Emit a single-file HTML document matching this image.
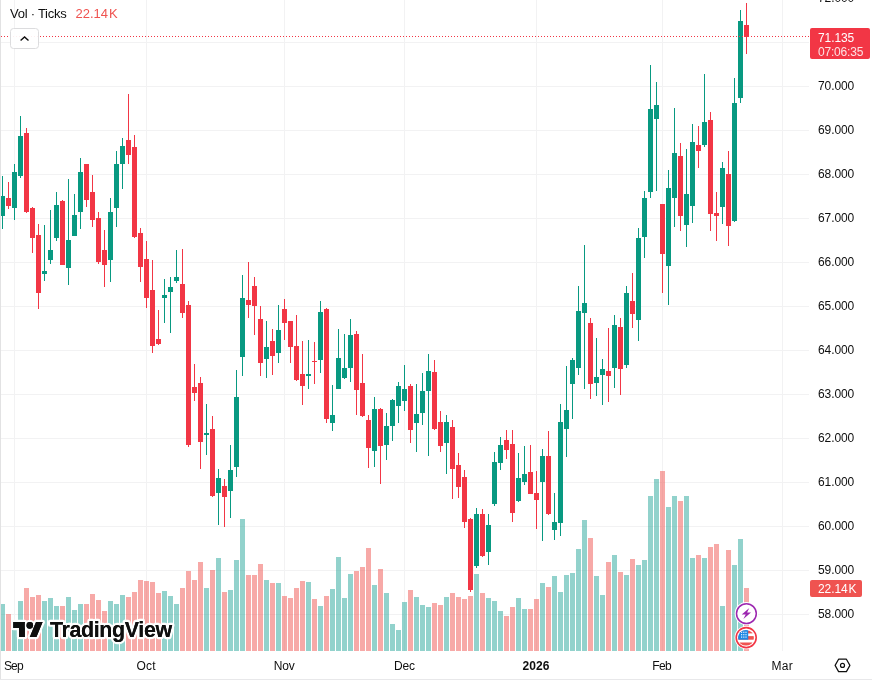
<!DOCTYPE html><html><head><meta charset="utf-8"><title>Chart</title><style>
html,body{margin:0;padding:0;background:#fff;}
body{width:872px;height:681px;overflow:hidden;position:relative;font-family:"Liberation Sans",sans-serif;color:#0F0F0F;}
#c{position:absolute;left:0;top:0;}
#w{position:absolute;left:0;top:0;width:872px;height:681px;will-change:transform;}
.t{position:absolute;white-space:nowrap;line-height:1;}
.ax{font-size:12px;letter-spacing:-0.1px;}
.bl{font-size:12px;}
</style></head><body><div id="w">
<svg id="c" width="872" height="681" viewBox="0 0 872 681">
<rect width="872" height="681" fill="#fff"/>
<g fill="#f2f2f3" shape-rendering="crispEdges">
<rect x="14" y="0" width="1" height="651"/>
<rect x="146" y="0" width="1" height="651"/>
<rect x="284" y="0" width="1" height="651"/>
<rect x="404" y="0" width="1" height="651"/>
<rect x="536" y="0" width="1" height="651"/>
<rect x="662" y="0" width="1" height="651"/>
<rect x="782" y="0" width="1" height="651"/>
<rect x="0" y="42" width="809" height="1"/>
<rect x="0" y="86" width="809" height="1"/>
<rect x="0" y="130" width="809" height="1"/>
<rect x="0" y="174" width="809" height="1"/>
<rect x="0" y="218" width="809" height="1"/>
<rect x="0" y="262" width="809" height="1"/>
<rect x="0" y="306" width="809" height="1"/>
<rect x="0" y="350" width="809" height="1"/>
<rect x="0" y="394" width="809" height="1"/>
<rect x="0" y="438" width="809" height="1"/>
<rect x="0" y="482" width="809" height="1"/>
<rect x="0" y="526" width="809" height="1"/>
<rect x="0" y="570" width="809" height="1"/>
<rect x="0" y="614" width="809" height="1"/>
</g>
<g shape-rendering="crispEdges">
<rect x="0" y="604" width="5" height="47" fill="rgba(38,166,154,0.5)"/>
<rect x="6" y="614" width="5" height="37" fill="rgba(239,83,80,0.5)"/>
<rect x="12" y="630" width="5" height="21" fill="rgba(38,166,154,0.5)"/>
<rect x="18" y="601" width="5" height="50" fill="rgba(38,166,154,0.5)"/>
<rect x="24" y="588" width="5" height="63" fill="rgba(239,83,80,0.5)"/>
<rect x="30" y="597" width="5" height="54" fill="rgba(239,83,80,0.5)"/>
<rect x="36" y="595" width="5" height="56" fill="rgba(239,83,80,0.5)"/>
<rect x="42" y="601" width="5" height="50" fill="rgba(38,166,154,0.5)"/>
<rect x="48" y="598" width="5" height="53" fill="rgba(38,166,154,0.5)"/>
<rect x="54" y="606" width="5" height="45" fill="rgba(38,166,154,0.5)"/>
<rect x="60" y="606" width="5" height="45" fill="rgba(239,83,80,0.5)"/>
<rect x="66" y="597" width="5" height="54" fill="rgba(38,166,154,0.5)"/>
<rect x="72" y="610" width="5" height="41" fill="rgba(38,166,154,0.5)"/>
<rect x="78" y="604" width="5" height="47" fill="rgba(38,166,154,0.5)"/>
<rect x="84" y="604" width="5" height="47" fill="rgba(239,83,80,0.5)"/>
<rect x="90" y="594" width="5" height="57" fill="rgba(239,83,80,0.5)"/>
<rect x="96" y="600" width="5" height="51" fill="rgba(239,83,80,0.5)"/>
<rect x="102" y="611" width="5" height="40" fill="rgba(239,83,80,0.5)"/>
<rect x="108" y="601" width="5" height="50" fill="rgba(38,166,154,0.5)"/>
<rect x="114" y="604" width="5" height="47" fill="rgba(38,166,154,0.5)"/>
<rect x="120" y="595" width="5" height="56" fill="rgba(38,166,154,0.5)"/>
<rect x="126" y="597" width="5" height="54" fill="rgba(239,83,80,0.5)"/>
<rect x="132" y="592" width="5" height="59" fill="rgba(239,83,80,0.5)"/>
<rect x="138" y="580" width="5" height="71" fill="rgba(239,83,80,0.5)"/>
<rect x="144" y="581" width="5" height="70" fill="rgba(239,83,80,0.5)"/>
<rect x="150" y="582" width="5" height="69" fill="rgba(239,83,80,0.5)"/>
<rect x="156" y="593" width="5" height="58" fill="rgba(239,83,80,0.5)"/>
<rect x="162" y="591" width="5" height="60" fill="rgba(38,166,154,0.5)"/>
<rect x="168" y="596" width="5" height="55" fill="rgba(38,166,154,0.5)"/>
<rect x="174" y="604" width="5" height="47" fill="rgba(38,166,154,0.5)"/>
<rect x="180" y="588" width="5" height="63" fill="rgba(239,83,80,0.5)"/>
<rect x="186" y="571" width="5" height="80" fill="rgba(239,83,80,0.5)"/>
<rect x="192" y="580" width="5" height="71" fill="rgba(239,83,80,0.5)"/>
<rect x="198" y="562" width="5" height="89" fill="rgba(239,83,80,0.5)"/>
<rect x="204" y="588" width="5" height="63" fill="rgba(38,166,154,0.5)"/>
<rect x="210" y="570" width="5" height="81" fill="rgba(239,83,80,0.5)"/>
<rect x="216" y="558" width="5" height="93" fill="rgba(38,166,154,0.5)"/>
<rect x="222" y="592" width="5" height="59" fill="rgba(239,83,80,0.5)"/>
<rect x="228" y="590" width="5" height="61" fill="rgba(38,166,154,0.5)"/>
<rect x="234" y="560" width="5" height="91" fill="rgba(38,166,154,0.5)"/>
<rect x="240" y="519" width="5" height="132" fill="rgba(38,166,154,0.5)"/>
<rect x="246" y="575" width="5" height="76" fill="rgba(239,83,80,0.5)"/>
<rect x="252" y="575" width="5" height="76" fill="rgba(239,83,80,0.5)"/>
<rect x="258" y="564" width="5" height="87" fill="rgba(239,83,80,0.5)"/>
<rect x="264" y="580" width="5" height="71" fill="rgba(38,166,154,0.5)"/>
<rect x="270" y="583" width="5" height="68" fill="rgba(239,83,80,0.5)"/>
<rect x="276" y="583" width="5" height="68" fill="rgba(38,166,154,0.5)"/>
<rect x="282" y="596" width="5" height="55" fill="rgba(239,83,80,0.5)"/>
<rect x="288" y="598" width="5" height="53" fill="rgba(239,83,80,0.5)"/>
<rect x="294" y="588" width="5" height="63" fill="rgba(239,83,80,0.5)"/>
<rect x="300" y="581" width="5" height="70" fill="rgba(239,83,80,0.5)"/>
<rect x="306" y="582" width="5" height="69" fill="rgba(38,166,154,0.5)"/>
<rect x="312" y="599" width="5" height="52" fill="rgba(239,83,80,0.5)"/>
<rect x="318" y="606" width="5" height="45" fill="rgba(38,166,154,0.5)"/>
<rect x="324" y="596" width="5" height="55" fill="rgba(239,83,80,0.5)"/>
<rect x="330" y="589" width="5" height="62" fill="rgba(38,166,154,0.5)"/>
<rect x="336" y="557" width="5" height="94" fill="rgba(38,166,154,0.5)"/>
<rect x="342" y="598" width="5" height="53" fill="rgba(38,166,154,0.5)"/>
<rect x="348" y="574" width="5" height="77" fill="rgba(38,166,154,0.5)"/>
<rect x="354" y="571" width="5" height="80" fill="rgba(239,83,80,0.5)"/>
<rect x="360" y="567" width="5" height="84" fill="rgba(239,83,80,0.5)"/>
<rect x="366" y="548" width="5" height="103" fill="rgba(239,83,80,0.5)"/>
<rect x="372" y="585" width="5" height="66" fill="rgba(38,166,154,0.5)"/>
<rect x="378" y="569" width="5" height="82" fill="rgba(239,83,80,0.5)"/>
<rect x="384" y="593" width="5" height="58" fill="rgba(38,166,154,0.5)"/>
<rect x="390" y="624" width="5" height="27" fill="rgba(38,166,154,0.5)"/>
<rect x="396" y="630" width="5" height="21" fill="rgba(38,166,154,0.5)"/>
<rect x="402" y="602" width="5" height="49" fill="rgba(38,166,154,0.5)"/>
<rect x="408" y="590" width="5" height="61" fill="rgba(239,83,80,0.5)"/>
<rect x="414" y="597" width="5" height="54" fill="rgba(38,166,154,0.5)"/>
<rect x="420" y="605" width="5" height="46" fill="rgba(38,166,154,0.5)"/>
<rect x="426" y="607" width="5" height="44" fill="rgba(38,166,154,0.5)"/>
<rect x="432" y="603" width="5" height="48" fill="rgba(239,83,80,0.5)"/>
<rect x="438" y="605" width="5" height="46" fill="rgba(239,83,80,0.5)"/>
<rect x="444" y="597" width="5" height="54" fill="rgba(38,166,154,0.5)"/>
<rect x="450" y="593" width="5" height="58" fill="rgba(239,83,80,0.5)"/>
<rect x="456" y="597" width="5" height="54" fill="rgba(239,83,80,0.5)"/>
<rect x="462" y="599" width="5" height="52" fill="rgba(239,83,80,0.5)"/>
<rect x="468" y="596" width="5" height="55" fill="rgba(239,83,80,0.5)"/>
<rect x="474" y="574" width="5" height="77" fill="rgba(38,166,154,0.5)"/>
<rect x="480" y="593" width="5" height="58" fill="rgba(239,83,80,0.5)"/>
<rect x="486" y="598" width="5" height="53" fill="rgba(38,166,154,0.5)"/>
<rect x="492" y="601" width="5" height="50" fill="rgba(38,166,154,0.5)"/>
<rect x="498" y="611" width="5" height="40" fill="rgba(38,166,154,0.5)"/>
<rect x="504" y="616" width="5" height="35" fill="rgba(239,83,80,0.5)"/>
<rect x="510" y="607" width="5" height="44" fill="rgba(239,83,80,0.5)"/>
<rect x="516" y="598" width="5" height="53" fill="rgba(38,166,154,0.5)"/>
<rect x="522" y="609" width="5" height="42" fill="rgba(38,166,154,0.5)"/>
<rect x="528" y="609" width="5" height="42" fill="rgba(239,83,80,0.5)"/>
<rect x="534" y="599" width="5" height="52" fill="rgba(239,83,80,0.5)"/>
<rect x="540" y="583" width="5" height="68" fill="rgba(38,166,154,0.5)"/>
<rect x="546" y="587" width="5" height="64" fill="rgba(239,83,80,0.5)"/>
<rect x="552" y="576" width="5" height="75" fill="rgba(38,166,154,0.5)"/>
<rect x="558" y="592" width="5" height="59" fill="rgba(38,166,154,0.5)"/>
<rect x="564" y="575" width="5" height="76" fill="rgba(38,166,154,0.5)"/>
<rect x="570" y="573" width="5" height="78" fill="rgba(38,166,154,0.5)"/>
<rect x="576" y="549" width="5" height="102" fill="rgba(38,166,154,0.5)"/>
<rect x="582" y="520" width="5" height="131" fill="rgba(38,166,154,0.5)"/>
<rect x="588" y="538" width="5" height="113" fill="rgba(239,83,80,0.5)"/>
<rect x="594" y="576" width="5" height="75" fill="rgba(38,166,154,0.5)"/>
<rect x="600" y="595" width="5" height="56" fill="rgba(38,166,154,0.5)"/>
<rect x="606" y="562" width="5" height="89" fill="rgba(239,83,80,0.5)"/>
<rect x="612" y="555" width="5" height="96" fill="rgba(38,166,154,0.5)"/>
<rect x="618" y="572" width="5" height="79" fill="rgba(239,83,80,0.5)"/>
<rect x="624" y="575" width="5" height="76" fill="rgba(38,166,154,0.5)"/>
<rect x="630" y="559" width="5" height="92" fill="rgba(239,83,80,0.5)"/>
<rect x="636" y="565" width="5" height="86" fill="rgba(38,166,154,0.5)"/>
<rect x="642" y="560" width="5" height="91" fill="rgba(38,166,154,0.5)"/>
<rect x="648" y="496" width="5" height="155" fill="rgba(38,166,154,0.5)"/>
<rect x="654" y="479" width="5" height="172" fill="rgba(38,166,154,0.5)"/>
<rect x="660" y="471" width="5" height="180" fill="rgba(239,83,80,0.5)"/>
<rect x="666" y="507" width="5" height="144" fill="rgba(38,166,154,0.5)"/>
<rect x="672" y="496" width="5" height="155" fill="rgba(38,166,154,0.5)"/>
<rect x="678" y="501" width="5" height="150" fill="rgba(239,83,80,0.5)"/>
<rect x="684" y="496" width="5" height="155" fill="rgba(38,166,154,0.5)"/>
<rect x="690" y="558" width="5" height="93" fill="rgba(38,166,154,0.5)"/>
<rect x="696" y="555" width="5" height="96" fill="rgba(239,83,80,0.5)"/>
<rect x="702" y="558" width="5" height="93" fill="rgba(38,166,154,0.5)"/>
<rect x="708" y="547" width="5" height="104" fill="rgba(239,83,80,0.5)"/>
<rect x="714" y="544" width="5" height="107" fill="rgba(239,83,80,0.5)"/>
<rect x="720" y="606" width="5" height="45" fill="rgba(38,166,154,0.5)"/>
<rect x="726" y="550" width="5" height="101" fill="rgba(239,83,80,0.5)"/>
<rect x="732" y="565" width="5" height="86" fill="rgba(38,166,154,0.5)"/>
<rect x="738" y="539" width="5" height="112" fill="rgba(38,166,154,0.5)"/>
<rect x="744" y="588" width="5" height="63" fill="rgba(239,83,80,0.5)"/>
</g>
<g shape-rendering="crispEdges">
<rect x="2" y="176" width="1" height="53" fill="#089981"/>
<rect x="0" y="196" width="5" height="20" fill="#089981"/>
<rect x="8" y="182" width="1" height="27" fill="#F23645"/>
<rect x="6" y="198" width="5" height="8" fill="#F23645"/>
<rect x="14" y="164" width="1" height="56" fill="#089981"/>
<rect x="12" y="172" width="5" height="36" fill="#089981"/>
<rect x="20" y="116" width="1" height="62" fill="#089981"/>
<rect x="18" y="136" width="5" height="40" fill="#089981"/>
<rect x="26" y="128" width="1" height="85" fill="#F23645"/>
<rect x="24" y="133" width="5" height="79" fill="#F23645"/>
<rect x="32" y="207" width="1" height="46" fill="#F23645"/>
<rect x="30" y="208" width="5" height="30" fill="#F23645"/>
<rect x="38" y="224" width="1" height="85" fill="#F23645"/>
<rect x="36" y="235" width="5" height="58" fill="#F23645"/>
<rect x="44" y="225" width="1" height="56" fill="#089981"/>
<rect x="42" y="271" width="5" height="3" fill="#089981"/>
<rect x="50" y="210" width="1" height="54" fill="#089981"/>
<rect x="48" y="250" width="5" height="10" fill="#089981"/>
<rect x="56" y="192" width="1" height="49" fill="#089981"/>
<rect x="54" y="205" width="5" height="33" fill="#089981"/>
<rect x="62" y="200" width="1" height="65" fill="#F23645"/>
<rect x="60" y="201" width="5" height="64" fill="#F23645"/>
<rect x="68" y="179" width="1" height="106" fill="#089981"/>
<rect x="66" y="240" width="5" height="28" fill="#089981"/>
<rect x="74" y="194" width="1" height="42" fill="#089981"/>
<rect x="72" y="215" width="5" height="21" fill="#089981"/>
<rect x="80" y="158" width="1" height="71" fill="#089981"/>
<rect x="78" y="172" width="5" height="40" fill="#089981"/>
<rect x="86" y="164" width="1" height="43" fill="#F23645"/>
<rect x="84" y="164" width="5" height="36" fill="#F23645"/>
<rect x="92" y="175" width="1" height="52" fill="#F23645"/>
<rect x="90" y="192" width="5" height="28" fill="#F23645"/>
<rect x="98" y="212" width="1" height="52" fill="#F23645"/>
<rect x="96" y="218" width="5" height="44" fill="#F23645"/>
<rect x="104" y="230" width="1" height="57" fill="#F23645"/>
<rect x="102" y="250" width="5" height="15" fill="#F23645"/>
<rect x="110" y="198" width="1" height="84" fill="#089981"/>
<rect x="108" y="212" width="5" height="48" fill="#089981"/>
<rect x="116" y="151" width="1" height="76" fill="#089981"/>
<rect x="114" y="164" width="5" height="44" fill="#089981"/>
<rect x="122" y="138" width="1" height="51" fill="#089981"/>
<rect x="120" y="146" width="5" height="18" fill="#089981"/>
<rect x="128" y="94" width="1" height="70" fill="#F23645"/>
<rect x="126" y="140" width="5" height="15" fill="#F23645"/>
<rect x="134" y="135" width="1" height="103" fill="#F23645"/>
<rect x="132" y="147" width="5" height="90" fill="#F23645"/>
<rect x="140" y="228" width="1" height="54" fill="#F23645"/>
<rect x="138" y="233" width="5" height="34" fill="#F23645"/>
<rect x="146" y="241" width="1" height="67" fill="#F23645"/>
<rect x="144" y="259" width="5" height="39" fill="#F23645"/>
<rect x="152" y="260" width="1" height="93" fill="#F23645"/>
<rect x="150" y="290" width="5" height="56" fill="#F23645"/>
<rect x="158" y="310" width="1" height="35" fill="#F23645"/>
<rect x="156" y="339" width="5" height="5" fill="#F23645"/>
<rect x="164" y="279" width="1" height="44" fill="#089981"/>
<rect x="162" y="295" width="5" height="3" fill="#089981"/>
<rect x="170" y="277" width="1" height="56" fill="#089981"/>
<rect x="168" y="287" width="5" height="5" fill="#089981"/>
<rect x="176" y="250" width="1" height="33" fill="#089981"/>
<rect x="174" y="277" width="5" height="4" fill="#089981"/>
<rect x="182" y="249" width="1" height="69" fill="#F23645"/>
<rect x="180" y="284" width="5" height="29" fill="#F23645"/>
<rect x="188" y="301" width="1" height="146" fill="#F23645"/>
<rect x="186" y="305" width="5" height="140" fill="#F23645"/>
<rect x="194" y="364" width="1" height="37" fill="#F23645"/>
<rect x="192" y="387" width="5" height="6" fill="#F23645"/>
<rect x="200" y="377" width="1" height="92" fill="#F23645"/>
<rect x="198" y="383" width="5" height="59" fill="#F23645"/>
<rect x="206" y="404" width="1" height="51" fill="#089981"/>
<rect x="204" y="433" width="5" height="2" fill="#089981"/>
<rect x="212" y="416" width="1" height="81" fill="#F23645"/>
<rect x="210" y="429" width="5" height="67" fill="#F23645"/>
<rect x="218" y="469" width="1" height="56" fill="#089981"/>
<rect x="216" y="478" width="5" height="15" fill="#089981"/>
<rect x="224" y="479" width="1" height="48" fill="#F23645"/>
<rect x="222" y="486" width="5" height="11" fill="#F23645"/>
<rect x="230" y="445" width="1" height="73" fill="#089981"/>
<rect x="228" y="470" width="5" height="21" fill="#089981"/>
<rect x="236" y="370" width="1" height="107" fill="#089981"/>
<rect x="234" y="397" width="5" height="70" fill="#089981"/>
<rect x="242" y="275" width="1" height="101" fill="#089981"/>
<rect x="240" y="298" width="5" height="59" fill="#089981"/>
<rect x="248" y="262" width="1" height="56" fill="#F23645"/>
<rect x="246" y="300" width="5" height="5" fill="#F23645"/>
<rect x="254" y="277" width="1" height="58" fill="#F23645"/>
<rect x="252" y="286" width="5" height="20" fill="#F23645"/>
<rect x="260" y="306" width="1" height="70" fill="#F23645"/>
<rect x="258" y="319" width="5" height="44" fill="#F23645"/>
<rect x="266" y="321" width="1" height="57" fill="#089981"/>
<rect x="264" y="347" width="5" height="12" fill="#089981"/>
<rect x="272" y="329" width="1" height="46" fill="#F23645"/>
<rect x="270" y="341" width="5" height="15" fill="#F23645"/>
<rect x="278" y="305" width="1" height="58" fill="#089981"/>
<rect x="276" y="330" width="5" height="23" fill="#089981"/>
<rect x="284" y="299" width="1" height="41" fill="#F23645"/>
<rect x="282" y="309" width="5" height="14" fill="#F23645"/>
<rect x="290" y="321" width="1" height="42" fill="#F23645"/>
<rect x="288" y="321" width="5" height="26" fill="#F23645"/>
<rect x="296" y="315" width="1" height="66" fill="#F23645"/>
<rect x="294" y="346" width="5" height="34" fill="#F23645"/>
<rect x="302" y="341" width="1" height="64" fill="#F23645"/>
<rect x="300" y="374" width="5" height="12" fill="#F23645"/>
<rect x="308" y="340" width="1" height="49" fill="#089981"/>
<rect x="306" y="374" width="5" height="2" fill="#089981"/>
<rect x="314" y="342" width="1" height="42" fill="#F23645"/>
<rect x="312" y="361" width="5" height="1" fill="#F23645"/>
<rect x="320" y="301" width="1" height="72" fill="#089981"/>
<rect x="318" y="312" width="5" height="48" fill="#089981"/>
<rect x="326" y="308" width="1" height="115" fill="#F23645"/>
<rect x="324" y="309" width="5" height="110" fill="#F23645"/>
<rect x="332" y="385" width="1" height="46" fill="#089981"/>
<rect x="330" y="415" width="5" height="8" fill="#089981"/>
<rect x="338" y="329" width="1" height="60" fill="#089981"/>
<rect x="336" y="358" width="5" height="31" fill="#089981"/>
<rect x="344" y="334" width="1" height="45" fill="#089981"/>
<rect x="342" y="368" width="5" height="10" fill="#089981"/>
<rect x="350" y="319" width="1" height="63" fill="#089981"/>
<rect x="348" y="335" width="5" height="33" fill="#089981"/>
<rect x="356" y="331" width="1" height="84" fill="#F23645"/>
<rect x="354" y="334" width="5" height="56" fill="#F23645"/>
<rect x="362" y="354" width="1" height="63" fill="#F23645"/>
<rect x="360" y="383" width="5" height="33" fill="#F23645"/>
<rect x="368" y="415" width="1" height="53" fill="#F23645"/>
<rect x="366" y="420" width="5" height="28" fill="#F23645"/>
<rect x="374" y="397" width="1" height="70" fill="#089981"/>
<rect x="372" y="409" width="5" height="42" fill="#089981"/>
<rect x="380" y="408" width="1" height="76" fill="#F23645"/>
<rect x="378" y="409" width="5" height="37" fill="#F23645"/>
<rect x="386" y="413" width="1" height="47" fill="#089981"/>
<rect x="384" y="426" width="5" height="19" fill="#089981"/>
<rect x="392" y="399" width="1" height="42" fill="#089981"/>
<rect x="390" y="400" width="5" height="26" fill="#089981"/>
<rect x="398" y="382" width="1" height="41" fill="#089981"/>
<rect x="396" y="386" width="5" height="20" fill="#089981"/>
<rect x="404" y="365" width="1" height="46" fill="#089981"/>
<rect x="402" y="389" width="5" height="12" fill="#089981"/>
<rect x="410" y="384" width="1" height="59" fill="#F23645"/>
<rect x="408" y="386" width="5" height="44" fill="#F23645"/>
<rect x="416" y="384" width="1" height="68" fill="#089981"/>
<rect x="414" y="414" width="5" height="9" fill="#089981"/>
<rect x="422" y="373" width="1" height="52" fill="#089981"/>
<rect x="420" y="391" width="5" height="22" fill="#089981"/>
<rect x="428" y="354" width="1" height="102" fill="#089981"/>
<rect x="426" y="371" width="5" height="20" fill="#089981"/>
<rect x="434" y="360" width="1" height="70" fill="#F23645"/>
<rect x="432" y="372" width="5" height="57" fill="#F23645"/>
<rect x="440" y="411" width="1" height="41" fill="#F23645"/>
<rect x="438" y="422" width="5" height="24" fill="#F23645"/>
<rect x="446" y="415" width="1" height="59" fill="#089981"/>
<rect x="444" y="422" width="5" height="21" fill="#089981"/>
<rect x="452" y="420" width="1" height="79" fill="#F23645"/>
<rect x="450" y="427" width="5" height="42" fill="#F23645"/>
<rect x="458" y="453" width="1" height="45" fill="#F23645"/>
<rect x="456" y="465" width="5" height="22" fill="#F23645"/>
<rect x="464" y="470" width="1" height="58" fill="#F23645"/>
<rect x="462" y="477" width="5" height="45" fill="#F23645"/>
<rect x="470" y="518" width="1" height="74" fill="#F23645"/>
<rect x="468" y="519" width="5" height="71" fill="#F23645"/>
<rect x="476" y="508" width="1" height="60" fill="#089981"/>
<rect x="474" y="514" width="5" height="52" fill="#089981"/>
<rect x="482" y="509" width="1" height="48" fill="#F23645"/>
<rect x="480" y="514" width="5" height="42" fill="#F23645"/>
<rect x="488" y="514" width="1" height="51" fill="#089981"/>
<rect x="486" y="525" width="5" height="27" fill="#089981"/>
<rect x="494" y="452" width="1" height="54" fill="#089981"/>
<rect x="492" y="462" width="5" height="42" fill="#089981"/>
<rect x="500" y="437" width="1" height="33" fill="#089981"/>
<rect x="498" y="445" width="5" height="18" fill="#089981"/>
<rect x="506" y="430" width="1" height="29" fill="#F23645"/>
<rect x="504" y="440" width="5" height="10" fill="#F23645"/>
<rect x="512" y="430" width="1" height="92" fill="#F23645"/>
<rect x="510" y="444" width="5" height="69" fill="#F23645"/>
<rect x="518" y="453" width="1" height="49" fill="#089981"/>
<rect x="516" y="478" width="5" height="23" fill="#089981"/>
<rect x="524" y="446" width="1" height="39" fill="#089981"/>
<rect x="522" y="474" width="5" height="8" fill="#089981"/>
<rect x="530" y="445" width="1" height="49" fill="#F23645"/>
<rect x="528" y="472" width="5" height="22" fill="#F23645"/>
<rect x="536" y="471" width="1" height="58" fill="#F23645"/>
<rect x="534" y="493" width="5" height="7" fill="#F23645"/>
<rect x="542" y="449" width="1" height="92" fill="#089981"/>
<rect x="540" y="456" width="5" height="26" fill="#089981"/>
<rect x="548" y="431" width="1" height="84" fill="#F23645"/>
<rect x="546" y="456" width="5" height="58" fill="#F23645"/>
<rect x="554" y="493" width="1" height="47" fill="#089981"/>
<rect x="552" y="522" width="5" height="8" fill="#089981"/>
<rect x="560" y="404" width="1" height="132" fill="#089981"/>
<rect x="558" y="422" width="5" height="101" fill="#089981"/>
<rect x="566" y="366" width="1" height="91" fill="#089981"/>
<rect x="564" y="410" width="5" height="19" fill="#089981"/>
<rect x="572" y="358" width="1" height="61" fill="#089981"/>
<rect x="570" y="360" width="5" height="24" fill="#089981"/>
<rect x="578" y="286" width="1" height="89" fill="#089981"/>
<rect x="576" y="311" width="5" height="57" fill="#089981"/>
<rect x="584" y="245" width="1" height="144" fill="#089981"/>
<rect x="582" y="303" width="5" height="10" fill="#089981"/>
<rect x="590" y="318" width="1" height="81" fill="#F23645"/>
<rect x="588" y="323" width="5" height="61" fill="#F23645"/>
<rect x="596" y="338" width="1" height="58" fill="#089981"/>
<rect x="594" y="377" width="5" height="6" fill="#089981"/>
<rect x="602" y="359" width="1" height="46" fill="#089981"/>
<rect x="600" y="369" width="5" height="6" fill="#089981"/>
<rect x="608" y="328" width="1" height="74" fill="#F23645"/>
<rect x="606" y="371" width="5" height="5" fill="#F23645"/>
<rect x="614" y="315" width="1" height="73" fill="#089981"/>
<rect x="612" y="325" width="5" height="43" fill="#089981"/>
<rect x="620" y="318" width="1" height="77" fill="#F23645"/>
<rect x="618" y="327" width="5" height="42" fill="#F23645"/>
<rect x="626" y="286" width="1" height="82" fill="#089981"/>
<rect x="624" y="293" width="5" height="72" fill="#089981"/>
<rect x="632" y="273" width="1" height="55" fill="#F23645"/>
<rect x="630" y="301" width="5" height="13" fill="#F23645"/>
<rect x="638" y="228" width="1" height="113" fill="#089981"/>
<rect x="636" y="238" width="5" height="82" fill="#089981"/>
<rect x="644" y="191" width="1" height="67" fill="#089981"/>
<rect x="642" y="198" width="5" height="39" fill="#089981"/>
<rect x="650" y="65" width="1" height="133" fill="#089981"/>
<rect x="648" y="109" width="5" height="83" fill="#089981"/>
<rect x="656" y="82" width="1" height="109" fill="#089981"/>
<rect x="654" y="105" width="5" height="14" fill="#089981"/>
<rect x="662" y="204" width="1" height="89" fill="#F23645"/>
<rect x="660" y="204" width="5" height="50" fill="#F23645"/>
<rect x="668" y="170" width="1" height="135" fill="#089981"/>
<rect x="666" y="188" width="5" height="78" fill="#089981"/>
<rect x="674" y="108" width="1" height="119" fill="#089981"/>
<rect x="672" y="153" width="5" height="45" fill="#089981"/>
<rect x="680" y="143" width="1" height="88" fill="#F23645"/>
<rect x="678" y="156" width="5" height="60" fill="#F23645"/>
<rect x="686" y="149" width="1" height="98" fill="#089981"/>
<rect x="684" y="194" width="5" height="31" fill="#089981"/>
<rect x="692" y="124" width="1" height="99" fill="#089981"/>
<rect x="690" y="142" width="5" height="64" fill="#089981"/>
<rect x="698" y="126" width="1" height="42" fill="#F23645"/>
<rect x="696" y="145" width="5" height="6" fill="#F23645"/>
<rect x="704" y="74" width="1" height="73" fill="#089981"/>
<rect x="702" y="122" width="5" height="23" fill="#089981"/>
<rect x="710" y="112" width="1" height="119" fill="#F23645"/>
<rect x="708" y="120" width="5" height="94" fill="#F23645"/>
<rect x="716" y="192" width="1" height="49" fill="#F23645"/>
<rect x="714" y="213" width="5" height="3" fill="#F23645"/>
<rect x="722" y="162" width="1" height="62" fill="#089981"/>
<rect x="720" y="168" width="5" height="39" fill="#089981"/>
<rect x="728" y="151" width="1" height="95" fill="#F23645"/>
<rect x="726" y="174" width="5" height="52" fill="#F23645"/>
<rect x="734" y="78" width="1" height="144" fill="#089981"/>
<rect x="732" y="103" width="5" height="118" fill="#089981"/>
<rect x="740" y="10" width="1" height="93" fill="#089981"/>
<rect x="738" y="21" width="5" height="77" fill="#089981"/>
<rect x="746" y="3" width="1" height="51" fill="#F23645"/>
<rect x="744" y="25" width="5" height="12" fill="#F23645"/>
</g>
<g fill="#F23645" shape-rendering="crispEdges">
<line x1="1" y1="36.5" x2="809" y2="36.5" stroke="#F23645" stroke-width="1" stroke-dasharray="1 2"/>
</g>
<rect x="0" y="0" width="1" height="680" fill="#e2e2e3" shape-rendering="crispEdges"/>
<rect x="0" y="679" width="872" height="1" fill="#e8e8ea" shape-rendering="crispEdges"/>
<g transform="translate(13.3,618.8) scale(0.826)" stroke="#fff" stroke-width="5.6" stroke-linejoin="round" paint-order="stroke" fill="#0F0F0F">
<path d="M14 22H7V11H0V4h14v18z"/><circle cx="20" cy="8" r="4"/><path d="M28 22h-8l7.5-18h8L28 22z"/>
</g>
<g transform="translate(13.3,618.8) scale(0.826)" fill="#0F0F0F">
<path d="M14 22H7V11H0V4h14v18z"/><circle cx="20" cy="8" r="4"/><path d="M28 22h-8l7.5-18h8L28 22z"/>
</g>
<text x="50" y="637.1" font-family="Liberation Sans, sans-serif" font-weight="bold" font-size="21.4" letter-spacing="-0.35" fill="#0F0F0F" stroke="#fff" stroke-width="4.6" stroke-linejoin="round" paint-order="stroke">TradingView</text>
<text x="50" y="637.1" font-family="Liberation Sans, sans-serif" font-weight="bold" font-size="21.4" letter-spacing="-0.35" fill="#0F0F0F">TradingView</text>
<circle cx="746.4" cy="613.6" r="11.7" fill="#fff"/>
<circle cx="746.4" cy="613.6" r="9.9" fill="#fff" stroke="#9C27B0" stroke-width="1.5"/>
<path transform="translate(746.4,613.6)" d="M2.9 -5.7 L-4.7 0.9 L-0.7 0.9 L-3.0 5.4 L4.6 -1.0 L0.7 -1.0 Z" fill="#9C27B0"/>
<circle cx="746.2" cy="637.6" r="11.7" fill="#fff"/>
<circle cx="746.2" cy="637.6" r="10" fill="#fff" stroke="#F23645" stroke-width="1.6"/>
<clipPath id="fl"><circle cx="746.0" cy="637.9" r="7.9"/></clipPath>
<g clip-path="url(#fl)">
<rect x="737.2" y="628.6" width="18" height="18" fill="#fff"/>
<rect x="737.2" y="630.6" width="18" height="2.80" fill="#EF5350"/>
<rect x="737.2" y="636.1" width="18" height="3.60" fill="#EF5350"/>
<rect x="737.2" y="642.5" width="18" height="3.20" fill="#EF5350"/>
<rect x="737.2" y="629.6" width="11" height="10.1" fill="#1E88E5"/>
<rect x="741.00" y="631.70" width="1.2" height="1.2" fill="#fff" fill-opacity="0.9"/>
<rect x="741.00" y="634.10" width="1.2" height="1.2" fill="#fff" fill-opacity="0.9"/>
<rect x="741.00" y="636.50" width="1.2" height="1.2" fill="#fff" fill-opacity="0.9"/>
<rect x="743.20" y="631.70" width="1.2" height="1.2" fill="#fff" fill-opacity="0.9"/>
<rect x="743.20" y="634.10" width="1.2" height="1.2" fill="#fff" fill-opacity="0.9"/>
<rect x="743.20" y="636.50" width="1.2" height="1.2" fill="#fff" fill-opacity="0.9"/>
<rect x="745.40" y="631.70" width="1.2" height="1.2" fill="#fff" fill-opacity="0.9"/>
<rect x="745.40" y="634.10" width="1.2" height="1.2" fill="#fff" fill-opacity="0.9"/>
<rect x="745.40" y="636.50" width="1.2" height="1.2" fill="#fff" fill-opacity="0.9"/>
</g>
<path d="M835.1 665.4 L838.6 659.1999999999999 L846.4 659.1999999999999 L849.9 665.4 L846.4 671.6 L838.6 671.6 Z" fill="none" stroke="#0F0F0F" stroke-width="1.2" stroke-linejoin="round"/>
<circle cx="842.5" cy="665.4" r="2" fill="none" stroke="#0F0F0F" stroke-width="1.2"/>
<rect x="810" y="28" width="60" height="31" rx="2" fill="#F23645"/>
<rect x="810" y="580" width="52" height="17" rx="2" fill="#EF5350"/>
<rect x="10.5" y="28.5" width="28" height="20" rx="3" fill="#fff" fill-opacity="0.92" stroke="#dcdcde" stroke-width="1"/>
<path d="M20.6 40.6 L24.55 36.9 L28.5 40.6" fill="none" stroke="#0F0F0F" stroke-width="1.35" stroke-linecap="butt"/>
</svg>
<div class="t ax" style="left:818px;top:-8px;">72.000</div>
<div class="t ax" style="left:818px;top:80px;">70.000</div>
<div class="t ax" style="left:818px;top:124px;">69.000</div>
<div class="t ax" style="left:818px;top:168px;">68.000</div>
<div class="t ax" style="left:818px;top:212px;">67.000</div>
<div class="t ax" style="left:818px;top:256px;">66.000</div>
<div class="t ax" style="left:818px;top:300px;">65.000</div>
<div class="t ax" style="left:818px;top:344px;">64.000</div>
<div class="t ax" style="left:818px;top:388px;">63.000</div>
<div class="t ax" style="left:818px;top:432px;">62.000</div>
<div class="t ax" style="left:818px;top:476px;">61.000</div>
<div class="t ax" style="left:818px;top:520px;">60.000</div>
<div class="t ax" style="left:818px;top:564px;">59.000</div>
<div class="t ax" style="left:818px;top:608px;">58.000</div>
<div class="t ax" style="left:818px;top:32px;color:#fff;">71.135</div>
<div class="t ax" style="left:818px;top:46px;color:rgba(255,255,255,0.85);letter-spacing:-0.2px;">07:06:35</div>
<div class="t ax" style="left:818px;top:583px;color:#fff;letter-spacing:-0.1px;">22.14<span style="margin-left:1px">K</span></div>
<div class="t bl" id="bSep" style="left:4.0px;top:660px;letter-spacing:-0.9px;">Sep</div>
<div class="t bl" id="bOct" style="left:136.5px;top:660px;letter-spacing:0.15px;">Oct</div>
<div class="t bl" id="bNov" style="left:273.7px;top:660px;letter-spacing:-0.1px;">Nov</div>
<div class="t bl" id="bDec" style="left:394px;top:660px;letter-spacing:-0.2px;">Dec</div>
<div class="t bl" id="b2026" style="left:522.4px;top:660px;letter-spacing:0.13px;font-weight:bold;">2026</div>
<div class="t bl" id="bFeb" style="left:652.3px;top:660px;letter-spacing:-0.65px;">Feb</div>
<div class="t bl" id="bMar" style="left:771.6px;top:660px;letter-spacing:0.2px;">Mar</div>
<div class="t" style="left:10px;top:7px;font-size:13px;letter-spacing:-0.25px;">Vol · Ticks</div>
<div class="t" style="left:75.5px;top:7px;font-size:13px;color:#EF5350;">22.14<span style="margin-left:1px">K</span></div>
</div></body></html>
